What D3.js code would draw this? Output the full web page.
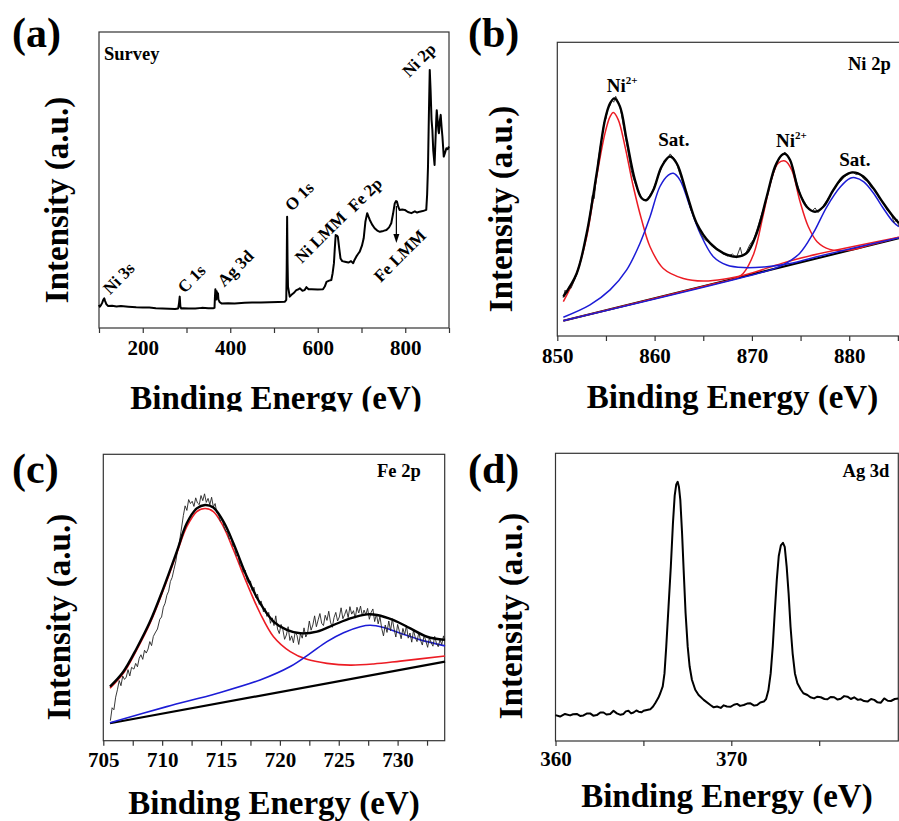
<!DOCTYPE html>
<html>
<head>
<meta charset="utf-8">
<style>
  body { margin: 0; background: #fff; }
  svg text { font-family: "Liberation Serif", "Times New Roman", serif; font-weight: bold; fill: #000; }
</style>
</head>
<body>
<svg width="899" height="821"></svg>
<script src="https://d3js.org/d3.v7.min.js"></script>
<script>

// (a) survey spectrum: [binding energy, intensity a.u.]
var survey = [[100,7.8],[102,7.2],[104,7.6],[107,8.4],[110,9.6],[112,10.0],[114,9.1],[117,8.0],[121,7.4],[130,7.5],
  [140,7.3],[150,7.4],[167,7.2],[185,7.0],[200,6.9],[215,6.9],[230,6.7],[245,6.6],[260,6.5],[274,6.4],[281,6.6],
  [283,8.5],[284.5,10.6],[286,7.2],[288,6.6],[292,6.7],[305,6.6],[320,6.6],[335,6.8],[350,6.7],[361,6.7],[364,6.8],
  [365,10.5],[366,13.1],[367,10.2],[368,9.6],[369,12.4],[370,11.0],[372,11.7],[373,9.6],[376,8.7],[380,8.3],
  [395,8.4],[410,8.3],[433,8.5],[450,8.6],[470,8.6],[490,8.7],[510,8.8],[525,8.9],[528,9.5],[529,20],[530,37.6],
  [531,22],[532,14.0],[536,10.6],[540,11.2],[545,11.8],[551,12.8],[555,13.0],[559,13.4],[565,12.6],[570,12.8],
  [574,13.8],[579,13.1],[586,13.1],[600,13.0],[612,13.1],[616,14.0],[620,15.6],[626,16.0],[631,16.2],[634,18.5],
  [637,21.9],[639,27.0],[641,31.4],[644,31.2],[646,30.8],[649,27.0],[652,23.5],[656,22.6],[662,22.4],[670,22.1],
  [676,22.6],[681,21.9],[684,23.0],[688,24.1],[692,25.0],[696,25.8],[701,27.8],[705,30.3],[709,36.0],[713,38.8],
  [716,37.6],[719,36.5],[724,35.0],[730,33.7],[736,32.9],[742,32.5],[750,32.8],[757,33.1],[763,34.0],[768,35.4],
  [772,38.5],[776,42.1],[779,42.9],[781,42.7],[784,41.0],[787,39.9],[793,40.0],[799,39.9],[806,39.2],[814,38.8],
  [822,39.4],[827,39.0],[833,39.3],[840,39.5],[848,39.9],[850,45],[852,54.5],[854,72],[856,87.2],[858,80],
  [860,70.5],[862,66.9],[864,60],[867,55.1],[869,63],[871,71],[872,73.6],[874,70],[876,66.5],[877,65.8],
  [879,70],[881,72.0],[883,68],[885,64.6],[888,57.9],[891,59.2],[894,60.7],[897,60.4],[900,61.3]];
var surveyTicks = [100, 200, 300, 400, 500, 600, 700, 800, 900];
var surveyLabels = [
  {text: "Ni 3s", be: 125.1, i: 11.1},
  {text: "C 1s", be: 295.2, i: 11.5},
  {text: "Ag 3d", be: 386.5, i: 13.7},
  {text: "O 1s", be: 540.6, i: 39.2},
  {text: "Ni LMM", be: 563.5, i: 21.6},
  {text: "Fe 2p", be: 684.5, i: 38.9},
  {text: "Fe LMM", be: 743.8, i: 15.2},
  {text: "Ni 2p", be: 808.9, i: 84.5}
];
var feLmmArrow = [[779.7, 41.2], [779.7, 28.7]];

// (b) Ni 2p
var ni2pRaw = [[850.6,13.0],[850.8,15.6],[851.0,14.6],[851.2,16.8],[851.4,16.2],[851.7,18.5],[852.0,21.0],[852.3,24.6],
  [852.6,28.3],[852.9,32.8],[853.2,38.0],[853.4,42.5],[853.6,47.9],[853.8,46.8],[854.0,53.8],[854.2,59.8],[854.4,64.2],
  [854.6,67.9],[854.8,72.6],[855.0,74.0],[855.2,77.6],[855.4,78.4],[855.6,80.4],[855.8,79.6],[856.0,81.6],[856.2,80.2],
  [856.4,78.9],[856.6,75.4],[856.8,71.3],[857.0,67.8],[857.2,64.1],[857.4,60.2],[857.6,56.3],[857.8,53.9],[858.0,52.0],
  [858.3,49.2],[858.6,47.5],[858.9,46.2],[859.2,46.6],[859.5,47.9],[859.8,49.5],[860.1,52.1],[860.4,54.6],[860.7,57.2],
  [861.0,59.8],[861.3,60.4],[861.6,62.0],[861.9,60.8],[862.2,59.6],[862.5,56.1],[862.8,53.2],[863.1,50.4],[863.4,46.8],
  [863.7,43.1],[864.0,41.0],[864.3,38.2],[864.7,35.1],[865.1,33.0],[865.5,32.0],[866.0,30.2],[866.5,29.6],[867.0,28.0],
  [867.5,27.2],[868.0,27.9],[868.4,26.6],[868.8,30.2],[869.0,27.5],[869.4,28.4],[869.8,31.2],[870.2,33.0],[870.6,37.1],
  [871.0,41.5],[871.4,45.6],[871.8,50.8],[872.2,55.3],[872.6,59.0],[873.0,61.4],[873.4,62.6],[873.8,60.9],[874.2,57.4],
  [874.6,52.3],[875.0,48.0],[875.4,45.7],[875.8,43.5],[876.2,42.6],[876.5,43.6],[876.8,42.0],[877.1,43.1],[877.5,45.2],
  [877.9,47.1],[878.3,49.2],[878.7,51.4],[879.1,52.6],[879.5,54.2],[879.9,55.0],[880.3,55.9],[880.7,55.0],[881.1,55.3],
  [881.5,53.4],[881.9,52.6],[882.3,50.4],[882.7,49.6],[883.1,46.8],[883.5,45.6],[883.9,42.8],[884.3,41.9],[884.6,38.6],
  [884.9,39.8],[885.1,37.4]];
var ni2pFit = [[850.62,13.4],[851.99,21.3],[853.02,35.0],[854.05,55.4],[854.90,73.6],[855.42,79.2],[855.86,80.9],
  [856.44,78.1],[857.13,66.7],[857.98,53.1],[858.67,46.9],[859.18,46.3],[859.87,49.7],[860.72,57.7],[861.58,61.1],
  [862.27,58.8],[863.29,48.6],[864.32,38.4],[865.70,31.6],[867.06,28.2],[868.44,27.0],[869.46,28.2],[870.49,35.0],
  [871.52,47.4],[872.38,57.7],[873.06,61.6],[873.41,62.0],[873.92,59.9],[874.78,49.7],[875.63,44.0],[876.49,42.3],
  [877.34,44.0],[878.37,49.7],[879.40,54.3],[880.43,55.7],[881.45,54.3],[882.48,50.3],[883.51,45.2],[884.53,40.6],
  [885.12,38.4]];
var ni2pMain1 = [[850.62,11.7],[851.99,21.3],[853.02,33.8],[854.05,54.3],[854.90,69.0],[855.42,74.7],[855.76,76.1],
  [856.27,73.6],[856.96,64.5],[857.81,50.9],[858.67,39.5],[859.53,30.4],[860.89,23.0],[862.95,19.6],[865.01,18.7],
  [867.06,19.3],[869.81,21.3],[872.55,24.2],[874.95,26.5],[885.12,33.6]];
var ni2pMain2 = [[850.62,5.2],[866.0,17.7],[868.4,19.7],[869.1,21.3],[870.2,28.1],[871.2,41.8],[872.0,53.1],
  [872.7,58.8],[873.4,59.6],[874.1,56.5],[874.9,46.3],[875.8,37.2],[876.7,32.1],[878.0,29.5],[880.1,29.3],
  [882.1,31.0],[885.1,33.6]];
var ni2pSat1 = [[850.62,6.4],[853.36,10.6],[855.42,15.7],[857.13,22.5],[858.50,31.6],[859.53,40.6],[860.55,50.9],
  [861.41,54.8],[861.92,55.4],[862.61,53.1],[863.64,44.0],[864.67,35.0],[866.04,27.0],[867.41,24.2],[869.12,23.3],
  [871.52,23.6],[873.92,24.7],[876.66,27.0],[885.12,33.5]];
var ni2pSat2 = [[850.62,5.2],[872.0,22.6],[873.2,24.2],[874.9,28.1],[876.3,35.0],[877.7,44.0],[879.1,50.8],
  [880.1,53.7],[880.6,53.9],[881.5,52.5],[882.5,48.6],[883.5,43.5],[884.5,38.9],[885.1,37.2]];
var ni2pBase = [[850.62,5.2],[885.12,33.3]];
var ni2pTicks = [850, 855, 860, 865, 870, 875, 880, 885];
var ni2pLabels = [
  {text: "Ni", sup: "2+", be: 855.08, i: 83.2},
  {text: "Sat.", sup: "", be: 860.38, i: 64.7},
  {text: "Ni", sup: "2+", be: 872.48, i: 64.5},
  {text: "Sat.", sup: "", be: 878.98, i: 58.0}
];

// (c) Fe 2p
var fe2pRaw = [[705.6,7.0],[705.75,11.5],[705.9,10.8],[706.05,15.2],[706.2,17.8],[706.35,21.0],[706.5,19.2],
  [706.65,22.6],[706.8,21.4],[706.95,22.2],[707.1,24.8],[707.25,22.6],[707.4,25.6],[707.6,25.0],[707.75,27.0],
  [707.9,25.8],[708.05,28.8],[708.2,30.0],[708.35,28.4],[708.5,31.6],[708.65,30.6],[708.8,32.0],[708.95,34.6],
  [709.1,33.2],[709.25,36.4],[709.4,37.6],[709.6,39.0],[709.8,42.4],[709.95,43.2],[710.1,46.6],[710.25,48.0],
  [710.4,50.8],[710.55,52.2],[710.7,55.6],[710.85,57.0],[711.0,59.8],[711.15,62.4],[711.3,66.2],[711.45,69.0],
  [711.6,73.0],[711.8,78.6],[711.95,82.0],[712.1,80.4],[712.25,84.2],[712.4,82.8],[712.55,83.6],[712.7,81.8],
  [712.85,84.8],[713.0,83.0],[713.15,82.4],[713.3,85.6],[713.45,83.8],[713.6,86.2],[713.75,83.2],[713.9,84.6],
  [714.05,82.4],[714.2,85.0],[714.35,81.6],[714.5,82.8],[714.65,79.4],[714.8,78.8],[714.95,76.6],[715.1,77.4],
  [715.25,74.8],[715.4,73.2],[715.55,72.8],[715.7,70.4],[715.85,70.8],[716.0,68.0],[716.15,67.4],[716.3,64.6],
  [716.45,64.8],[716.6,61.4],[716.75,61.0],[716.9,58.8],[717.05,59.6],[717.2,56.2],[717.35,55.0],[717.5,55.8],
  [717.65,52.4],[717.8,53.6],[717.95,50.0],[718.1,51.2],[718.25,47.6],[718.4,48.8],[718.55,46.4],
  [718.6,45.0],[718.75,46.2],[718.9,43.4],[719.05,44.8],[719.2,41.0],[719.35,42.9],[719.5,40.2],[719.65,43.6],
  [719.8,39.0],[719.95,37.4],[720.1,40.6],[720.25,38.8],[720.4,35.4],[720.55,36.9],[720.7,39.8],[720.85,35.0],
  [721.0,36.6],[721.15,34.2],[721.3,38.0],[721.45,36.8],[721.6,33.6],[721.75,37.4],[721.9,35.8],[722.05,39.4],
  [722.2,36.2],[722.35,37.6],[722.5,41.8],[722.65,38.6],[722.8,40.4],[722.95,43.6],[723.1,39.8],[723.25,42.2],
  [723.4,44.4],[723.55,41.0],[723.7,40.2],[723.85,43.8],[724.0,42.0],[724.15,45.2],[724.3,41.4],[724.45,39.6],
  [724.6,43.0],[724.75,44.8],[724.9,41.8],[725.05,43.2],[725.2,46.4],[725.35,42.6],[725.5,44.0],[725.65,45.8],
  [725.8,43.0],[725.95,46.8],[726.1,44.2],[726.25,45.4],[726.4,42.8],[726.55,46.6],[726.7,44.6],[726.85,47.0],
  [727.0,43.6],[727.15,45.6],[727.3,44.0],[727.45,46.2],[727.6,42.4],[727.75,44.8],[727.9,46.0],[728.05,41.6],
  [728.2,44.2],[728.35,40.8],[728.5,43.4],[728.65,39.2],[728.8,36.6],[728.95,40.4],[729.1,37.8],[729.25,41.8],
  [729.4,38.4],[729.55,42.6],[729.7,39.0],[729.85,36.2],[730.0,40.6],[730.15,38.2],[730.3,35.6],[730.45,39.2],
  [730.6,37.0],[730.75,40.2],[730.9,35.8],[731.05,37.6],[731.2,34.4],[731.35,38.6],[731.5,36.0],[731.65,34.6],
  [731.8,37.8],[731.95,35.0],[732.1,33.4],[732.25,36.8],[732.4,34.8],[732.55,32.6],[732.7,36.0],[732.85,34.2],
  [733.0,33.0],[733.15,36.4],[733.3,34.0],[733.45,32.8],[733.6,35.2],[733.75,33.6],[733.9,36.6],[734.0,34.8]];
var fe2pFit = [[705.57,18.9],[706.70,24.1],[707.84,32.3],[708.97,41.6],[710.10,53.2],[711.24,66.0],[712.09,75.9],
  [712.94,81.1],[713.65,82.3],[714.35,81.4],[715.21,76.5],[716.06,68.9],[717.19,57.3],[718.32,48.0],[719.46,41.6],
  [720.59,38.7],[721.73,37.5],[723.15,38.1],[724.56,40.4],[725.98,42.7],[727.40,44.1],[728.25,43.9],[729.66,42.1],
  [731.08,39.2],[732.50,36.3],[734.03,35.2]];
var fe2pMain = [[705.57,18.3],[706.70,23.5],[707.84,31.7],[708.97,41.0],[710.10,52.6],[711.24,65.4],[712.09,74.7],
  [712.94,80.0],[713.65,81.1],[714.35,80.0],[715.21,74.7],[716.06,66.6],[717.19,55.0],[718.32,44.5],[719.46,36.3],
  [720.88,31.1],[722.29,28.4],[724.00,27.0],[725.98,26.4],[727.96,26.8],[730.23,27.8],[734.03,29.6]];
var fe2pSat = [[705.57,6.3],[710.39,11.9],[714.64,16.5],[718.32,21.2],[720.88,25.9],[722.58,30.5],[724.00,34.6],
  [725.41,37.7],[726.83,39.8],[727.68,40.3],[728.81,39.5],[730.23,37.5],[731.93,35.2],[734.03,33.1]];
var fe2pBase = [[705.57,6.1],[734.03,27.6]];
var fe2pTicks = [705, 707.5, 710, 712.5, 715, 717.5, 720, 722.5, 725, 727.5, 730, 732.5];

// (d) Ag 3d
var ag3d = [[360.0,9.0],[360.26,8.5],[360.54,9.4],[360.83,8.9],[361.0,9.3],[361.21,9.4],[361.4,8.7],[361.59,8.9],
  [361.8,9.6],[361.97,9.6],[362.15,8.8],[362.35,9.0],[362.55,9.9],[362.73,9.9],[362.9,9.2],[363.11,9.4],[363.30,10.5],
  [363.49,9.6],[363.7,9.1],[363.87,9.4],[364.0,10.3],[364.15,10.5],[364.3,9.6],[364.44,9.9],[364.6,10.6],[364.73,10.2],
  [364.9,10.0],[365.01,10.5],[365.2,10.8],[365.39,11.0],[365.55,12.0],[365.67,13.1],[365.85,15.0],[365.96,16.6],
  [366.1,19.0],[366.2,23.5],[366.3,32.8],[366.43,46.7],[366.56,60.6],[366.68,75.6],[366.78,85.3],[366.87,89.2],
  [366.95,90.1],[367.02,88.4],[367.10,83.8],[367.2,72.2],[367.29,59.4],[367.4,44.4],[367.52,32.8],[367.63,25.9],
  [367.76,21.3],[367.95,17.8],[368.14,16.0],[368.43,14.3],[368.81,12.5],[369.0,11.7],[369.19,12.0],[369.4,11.5],
  [369.57,12.4],[369.75,12.0],[369.95,11.9],[370.15,12.6],[370.33,12.9],[370.5,12.2],[370.71,12.5],[370.9,13.0],
  [371.09,13.1],[371.3,12.3],[371.47,12.5],[371.65,13.4],[371.85,13.7],[371.98,14.6],[372.11,17.6],[372.24,23.5],
  [372.36,33.0],[372.47,44.6],[372.59,56.2],[372.70,64.3],[372.82,68.0],[372.94,68.9],[373.04,67.5],[373.15,60.6],
  [373.26,51.3],[373.37,39.7],[373.49,30.4],[373.62,23.5],[373.76,20.1],[373.95,17.9],[374.1,16.6],[374.33,16.0],
  [374.5,15.2],[374.71,14.8],[374.9,15.4],[375.09,15.2],[375.3,14.6],[375.47,14.5],[375.65,15.3],[375.85,15.2],
  [376.05,14.4],[376.23,14.7],[376.42,15.6],[376.61,15.4],[376.8,14.6],[376.99,15.2],[377.2,14.3],[377.37,14.5],
  [377.55,13.9],[377.75,13.7],[377.95,14.6],[378.13,14.3],[378.3,13.5],[378.51,13.3],[378.7,14.8],[378.9,14.0],
  [379.08,13.9],[379.3,14.6],[379.5,14.8]];
var ag3dTicks = [360, 365, 370, 375];

var RED = "#ec1c24", BLUE = "#1c1cd6";

var svg = d3.select("svg");

// one framed panel with bottom axis and titles
function panel(o) {
  var g = svg.append("g");
  if (o.clipBottom) {
    svg.append("clipPath").attr("id", o.id + "-clip")
      .append("rect").attr("x", 0).attr("y", 0).attr("width", 899).attr("height", o.clipBottom);
    g.attr("clip-path", "url(#" + o.id + "-clip)");
  }
  var x = d3.scaleLinear().domain(o.xDomain).range([o.left, o.right]);
  var y = d3.scaleLinear().domain([0, 100]).range([o.bottom, o.top]);

  g.append("rect")
      .attr("x", o.left).attr("y", o.top)
      .attr("width", o.right - o.left).attr("height", o.bottom - o.top)
      .attr("fill", "none").attr("stroke", "#333").attr("stroke-width", 1.2);

  var ax = g.append("g")
      .attr("transform", "translate(0," + o.bottom + ")")
      .call(d3.axisBottom(x)
        .tickValues(o.ticks)
        .tickSize(5)
        .tickPadding(o.pad)
        .tickFormat(function(d) { return o.labelled(d) ? d : ""; }));
  ax.select(".domain").remove();
  ax.attr("font-size", 21).attr("font-family", null);
  ax.selectAll("line").attr("stroke", "#333").attr("stroke-width", 1.2);

  g.append("text")
      .attr("x", (o.left + o.right) / 2 + (o.titleShift || 0))
      .attr("y", o.titleY)
      .attr("text-anchor", "middle")
      .attr("font-size", 33)
      .text("Binding Energy (eV)");

  g.append("text")
      .attr("transform", "translate(" + o.yTitleX + "," + o.yTitleY + ") rotate(-90)")
      .attr("text-anchor", "middle")
      .attr("font-size", 33)
      .text("Intensity (a.u.)");

  g.append("text")
      .attr("x", o.letterX).attr("y", o.letterY)
      .attr("font-size", 42)
      .text(o.letter);

  return {g: g, x: x, y: y};
}

function draw(p, data, color, width, curve) {
  var line = d3.line()
      .x(function(d) { return p.x(d[0]); })
      .y(function(d) { return p.y(d[1]); });
  if (curve) line.curve(curve);
  p.g.append("path")
      .datum(data)
      .attr("fill", "none")
      .attr("stroke", color)
      .attr("stroke-width", width)
      .attr("stroke-linejoin", "round")
      .attr("d", line);
}

var smooth = d3.curveCatmullRom.alpha(0.5);

// (a)
var pa = panel({id: "a", xDomain: [100, 900], left: 99, right: 449, top: 32, bottom: 328,
  ticks: surveyTicks, pad: 7, labelled: function(d) { return d % 200 === 0; },
  titleY: 408.5, titleShift: 2, yTitleX: 68, yTitleY: 200, letter: "(a)", letterX: 12, letterY: 47,
  clipBottom: 411.5});
draw(pa, survey, "#000", 2);
pa.g.append("text").attr("x", 104).attr("y", 60).attr("font-size", 18.5).text("Survey");
pa.g.selectAll(".peak")
  .data(surveyLabels)
  .enter().append("text")
    .attr("class", "peak")
    .attr("font-size", 17)
    .attr("transform", function(d) { return "translate(" + pa.x(d.be) + "," + pa.y(d.i) + ") rotate(-45)"; })
    .text(function(d) { return d.text; });
pa.g.append("line")
    .attr("x1", pa.x(feLmmArrow[0][0])).attr("y1", pa.y(feLmmArrow[0][1]))
    .attr("x2", pa.x(feLmmArrow[1][0])).attr("y2", pa.y(feLmmArrow[1][1]) - 7)
    .attr("stroke", "#000").attr("stroke-width", 1.2);
var ax0 = pa.x(feLmmArrow[1][0]), ay0 = pa.y(feLmmArrow[1][1]);
pa.g.append("path")
    .attr("d", "M" + ax0 + "," + ay0 + "L" + (ax0 - 3) + "," + (ay0 - 9) + "L" + (ax0 + 3) + "," + (ay0 - 9) + "Z")
    .attr("fill", "#000");

// (b)
var pb = panel({id: "b", xDomain: [850, 886], left: 557.3, right: 907.6, top: 42.3, bottom: 336,
  ticks: ni2pTicks, pad: 7.4, labelled: function(d) { return d % 10 === 0; },
  titleY: 408, titleShift: 0, yTitleX: 512, yTitleY: 209, letter: "(b)", letterX: 468, letterY: 47});
draw(pb, ni2pBase, "#000", 2);
draw(pb, ni2pMain1, RED, 1.5, smooth);
draw(pb, ni2pMain2, RED, 1.5, smooth);
draw(pb, ni2pSat1, BLUE, 1.5, smooth);
draw(pb, ni2pSat2, BLUE, 1.5, smooth);
draw(pb, ni2pRaw, "#222", 0.9);
draw(pb, ni2pFit, "#000", 2.4, smooth);
pb.g.append("text").attr("x", 848).attr("y", 70).attr("font-size", 18.5).text("Ni 2p");
var nl = pb.g.selectAll(".peak")
  .data(ni2pLabels)
  .enter().append("text")
    .attr("class", "peak")
    .attr("font-size", 19)
    .attr("x", function(d) { return pb.x(d.be); })
    .attr("y", function(d) { return pb.y(d.i); })
    .text(function(d) { return d.text; });
nl.filter(function(d) { return d.sup; })
  .append("tspan")
    .attr("font-size", 11)
    .attr("dy", -8)
    .text(function(d) { return d.sup; });

// (c)
var pc = panel({id: "c", xDomain: [705, 734], left: 103.3, right: 444.7, top: 454.3, bottom: 740.7,
  ticks: fe2pTicks, pad: 6, labelled: function(d) { return d % 5 === 0; },
  titleY: 813.5, titleShift: 0, yTitleX: 70, yTitleY: 617, letter: "(c)", letterX: 12, letterY: 483});
draw(pc, fe2pBase, "#000", 2.2);
draw(pc, fe2pMain, RED, 1.6, smooth);
draw(pc, fe2pSat, BLUE, 1.6, smooth);
draw(pc, fe2pRaw, "#222", 0.9);
draw(pc, fe2pFit, "#000", 2.4, smooth);
pc.g.append("text").attr("x", 420.7).attr("y", 476.7).attr("text-anchor", "end")
    .attr("font-size", 18.5).text("Fe 2p");

// (d)
var pd = panel({id: "d", xDomain: [360, 379.5], left: 555.5, right: 898.3, top: 453.3, bottom: 741,
  ticks: ag3dTicks, pad: 5, labelled: function(d) { return d % 10 === 0; },
  titleY: 807, titleShift: 0, yTitleX: 522, yTitleY: 616, letter: "(d)", letterX: 468, letterY: 483});
draw(pd, ag3d, "#000", 2);
pd.g.append("text").attr("x", 889.3).attr("y", 476.7).attr("text-anchor", "end")
    .attr("font-size", 18.5).text("Ag 3d");

</script>
</body>
</html>
